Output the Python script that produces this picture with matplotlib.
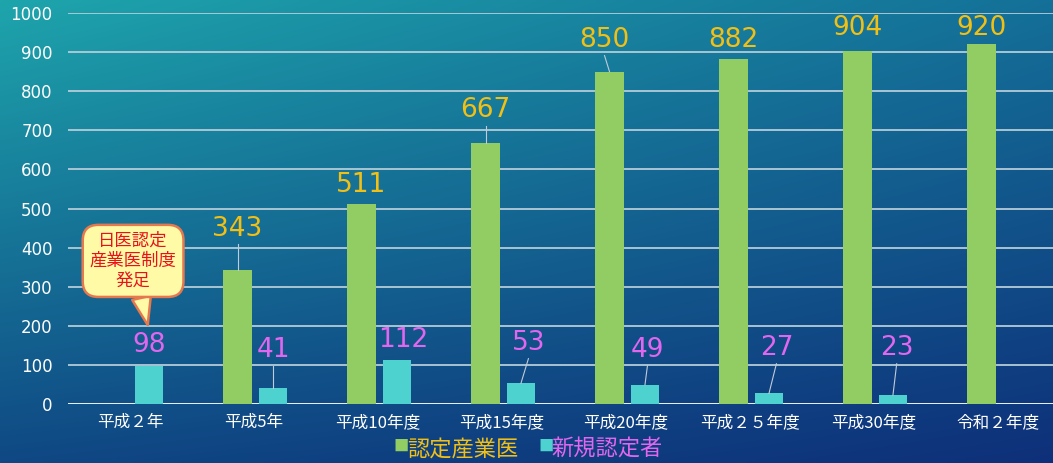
#! /usr/bin/env python3
# -*- coding: utf-8 -*-
"""認定産業医数と新規認定者数の推移."""

import numpy as np
import matplotlib
matplotlib.use('Agg')
import matplotlib.pyplot as plt

plt.rcParams['font.family'] = ['Noto Sans CJK JP', 'DejaVu Sans']

categories = ['平成２年', '平成5年', '平成10年度', '平成15年度',
              '平成20年度', '平成２５年度', '平成30年度', '令和２年度']
certified = [np.nan, 343, 511, 667, 850, 882, 904, 920]
new_certified = [98, 41, 112, 53, 49, 27, 23, np.nan]
series_names = ['認定産業医', '新規認定者']
callout_text = '日医認定\n産業医制度\n発足'

# label placement: (x offset in category units, label y, draw leader line)
green_lbl = [None, (0.0, 448, True), (0.0, 560, False), (0.0, 752, True),
             (-0.04, 931, True), (0.0, 931, False), (0.0, 962, False), (0.0, 962, False)]
cyan_lbl = [(0.0, 151, False), (0.0, 138, True), (0.05, 164, False), (0.06, 156, True),
            (0.02, 138, True), (0.06, 143, True), (0.03, 143, True), None]

GREEN = '#92cd63'
CYAN = '#4dd2cf'
GOLD = '#f2c014'
PINK = '#e266ee'

fig = plt.figure(figsize=(10.53, 4.63), dpi=100)

# background gradient
bg = fig.add_axes([0, 0, 1, 1], zorder=-10)
tl = np.array([30, 165, 172]) / 255.
tr = np.array([20, 112, 152]) / 255.
bl = np.array([15, 72, 132]) / 255.
br = np.array([14, 48, 122]) / 255.
yy, xx = np.mgrid[0:1:120j, 0:1:240j]
img = ((1 - yy)[..., None] * ((1 - xx)[..., None] * tl + xx[..., None] * tr)
       + yy[..., None] * ((1 - xx)[..., None] * bl + xx[..., None] * br))
bg.imshow(img, aspect='auto', extent=[0, 1, 0, 1], interpolation='bilinear')
bg.axis('off')

ax = fig.add_axes([68 / 1053, 59 / 463, 992 / 1053, 391 / 463])
ax.patch.set_alpha(0)

x = np.arange(len(categories))
w = 0.226
gx = x - 0.133
cx = x + 0.153
ax.bar(gx, certified, w, color=GREEN, zorder=3)
ax.bar(cx, new_certified, w, color=CYAN, zorder=3)

ax.set_xlim(-0.5, len(categories) - 0.5)
ax.set_ylim(0, 1000)
ax.set_yticks(range(0, 1001, 100))
ax.yaxis.grid(True, color='#b4ccd8', lw=1.3, zorder=1)
ax.axhline(0, color='#e8f0f4', lw=1.4, zorder=2)
ax.set_axisbelow(True)
for s in ax.spines.values():
    s.set_visible(False)
ax.tick_params(axis='y', length=0, pad=11, colors='white', labelsize=12)
ax.tick_params(axis='x', length=0, pad=7, colors='white', labelsize=12)
for t in ax.get_yticklabels():
    t.set_fontfamily('DejaVu Sans')
ax.set_xticks(x)
ax.set_xticklabels(categories)


def label_bars(xs, vals, layout, color):
    for xi, v, lay in zip(xs, vals, layout):
        if lay is None or np.isnan(v):
            continue
        dx, ly, leader = lay
        ax.text(xi + dx, ly, '%d' % v, color=color, fontsize=19, ha='center',
                va='center', family='DejaVu Sans', zorder=5)
        if leader:
            ax.plot([xi + dx, xi], [ly - 40, v], color='#c0ccd8', lw=0.8, zorder=4)


label_bars(gx, certified, green_lbl, GOLD)
label_bars(cx, new_certified, cyan_lbl, PINK)

# callout
ax.annotate(callout_text, xy=(cx[0] - 0.01, 202), xytext=(0.025, 366),
            ha='center', va='center', color='#e8121c', fontsize=12.5,
            linespacing=1.15, zorder=6,
            bbox=dict(boxstyle='round,pad=0.4,rounding_size=0.9',
                      fc='#fffaa6', ec='#e5784e', lw=1.8),
            arrowprops=dict(arrowstyle='wedge,tail_width=1.1,shrink_factor=0.5',
                            fc='#fffaa6', ec='#e5784e', lw=1.8,
                            shrinkA=0, shrinkB=0))

# legend
lx = 0.374
ly = 0.006
fig.text(lx, ly + 0.012, '■', color=GREEN, fontsize=11, va='bottom')
fig.text(lx + 0.013, ly, series_names[0], color=GOLD, fontsize=16, va='bottom')
fig.text(lx + 0.137, ly + 0.012, '■', color=CYAN, fontsize=11, va='bottom')
fig.text(lx + 0.150, ly, series_names[1], color=PINK, fontsize=16, va='bottom')

fig.savefig('out.png', dpi=100)
